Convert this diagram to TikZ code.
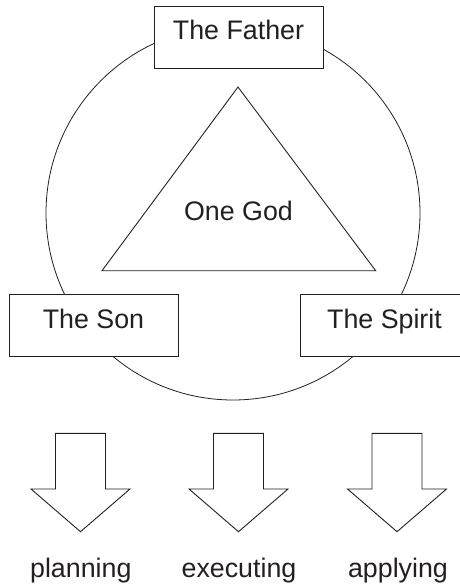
\documentclass[tikz,border=0pt]{standalone}
\usepackage{fontspec}
\setmainfont{Liberation Sans}
\begin{document}
\begin{tikzpicture}[x=1pt,y=-1pt,
  line width=0.9pt, draw={rgb,255:red,35;green,31;blue,32},
  txt/.style={font=\fontsize{26.8}{30}\selectfont, text={rgb,255:red,35;green,31;blue,32}},
  person/.style={txt, draw, fill=white, rectangle, minimum width=169pt, minimum height=62pt,
    inner sep=0pt, text height=0.72em, text depth=0.21em},
  bigarrow/.style={draw, fill=white, line join=miter},
  lbl/.style={txt, anchor=base, inner sep=0pt}]
\useasboundingbox (0,0) rectangle (460,587);
% circle
\node[draw, circle, line width=0.8pt, minimum size=374pt, inner sep=0pt] (ring) at (233,213) {};
% triangle
\coordinate (tA) at (238,87);
\coordinate (tB) at (102,270.7);
\coordinate (tC) at (375.7,270.7);
\draw[line join=miter] (tA) -- (tB) -- (tC) -- cycle;
\node[txt] (god) at (238.5,210.5) {One God};
% persons
\node[person] (father) at (238.5,37) {The Father};
\node[person] (son) at (93.5,325.5) {The Son};
\node[person] (spirit) at (384.5,325.5) {The Spirit};
% arrows
\foreach \cx/\nm in {80.5/a1, 238.5/a2, 397/a3}{
  \draw[bigarrow] (\cx-25,433.3) -- (\cx+25,433.3) -- (\cx+25,489) -- (\cx+49.5,489)
    -- (\cx,531.7) -- (\cx-49.5,489) -- (\cx-25,489) -- cycle;
}
% labels
\node[lbl] (plan) at (80.8,577.8) {planning};
\node[lbl] (exec) at (239,577.8) {executing};
\node[lbl] (appl) at (398,577.8) {applying};
\end{tikzpicture}
\end{document}
